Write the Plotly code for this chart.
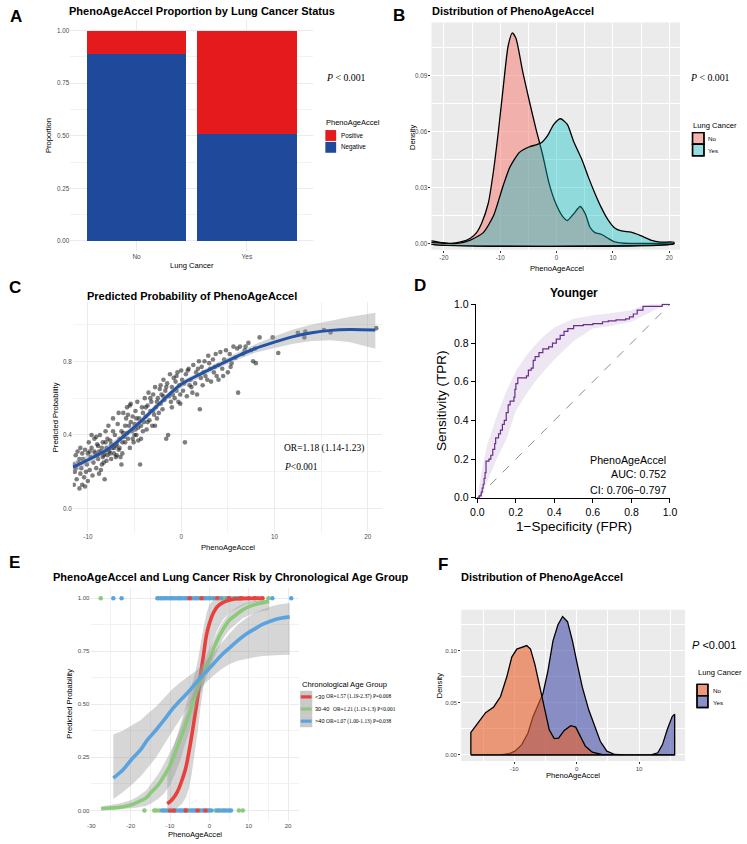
import plotly.graph_objects as go

W, H = 747, 844
SANS = "Liberation Sans, Arial, Helvetica, sans-serif"
SERIF = "Liberation Serif, Times New Roman, serif"


def fx(p):
    return p / W


def fy(p):
    return 1 - p / H


# ======================= DATA =======================
# --- Panel A: proportions ---
a_groups = ["No", "Yes"]
a_negative = [0.89, 0.51]
a_positive = [0.11, 0.49]

# --- Panel B: densities ---
b_no_x = [-22.5, -20.5, -18.8, -17, -15.3, -14.2, -13.3, -12.1, -11.2, -10.3, -9.5, -8.6, -7.85, -7.2,
          -6.0, -4.8, -3.7, -2.5, -1.3, -0.2, 1.0, 1.9, 3.0, 4.2, 5.1, 5.9, 6.8, 8.0, 9.1, 10.3, 12,
          13.8, 17, 20.8]
b_no_y = [0.0015, 0.0006, 0.0002, 0.001, 0.003, 0.006, 0.011, 0.022, 0.039, 0.061, 0.083, 0.106, 0.113,
          0.110, 0.092, 0.076, 0.062, 0.048, 0.032, 0.022, 0.015, 0.0125, 0.016, 0.020, 0.016, 0.009,
          0.006, 0.005, 0.003, 0.001, 0.0003, 0.0002, 0.0002, 0.0002]
b_yes_x = [-22.5, -20, -17.6, -15.3, -13.0, -11.2, -9.5, -8.3, -6.6, -4.8, -3.7, -2.8, -1.6, -0.5, 0.7,
           1.9, 3.0, 4.5, 5.6, 6.8, 8.0, 9.1, 10.3, 11.5, 13.2, 14.9, 16.7, 18.4, 20.8]
b_yes_y = [0.0006, 0.0003, 0.0002, 0.002, 0.006, 0.015, 0.031, 0.041, 0.049, 0.052, 0.053, 0.054, 0.058,
           0.064, 0.067, 0.064, 0.055, 0.045, 0.036, 0.027, 0.019, 0.013, 0.0085, 0.0069, 0.0062, 0.0044,
           0.002, 0.0009, 0.0009]

# --- Panel C: predicted probability scatter + smooth ---
c_points = [
    (-11.5, 0.13), (-11.4, 0.20), (-11.3, 0.29), (-11.2, 0.16), (-11.1, 0.31), (-11.0, 0.25), (-10.9, 0.11),
    (-10.8, 0.19), (-10.8, 0.33), (-10.7, 0.22), (-10.6, 0.13), (-10.5, 0.27), (-10.4, 0.17), (-10.3, 0.32),
    (-10.2, 0.20), (-10.1, 0.24), (-10.0, 0.30), (-10.0, 0.15), (-11.3, 0.22), (-10.6, 0.30), (-10.9, 0.27),
    (-10.3, 0.12), (-11.5, 0.24),
    (-9.9, 0.36), (-9.8, 0.21), (-9.7, 0.28), (-9.6, 0.33), (-9.5, 0.18), (-9.4, 0.25), (-9.3, 0.38),
    (-9.2, 0.30), (-9.1, 0.22), (-9.0, 0.35), (-8.9, 0.27), (-8.8, 0.19), (-8.7, 0.40), (-8.6, 0.31),
    (-8.5, 0.24), (-8.4, 0.36), (-8.3, 0.29), (-8.2, 0.16), (-8.1, 0.42), (-8.0, 0.33), (-8.0, 0.26),
    (-9.6, 0.40), (-9.0, 0.29), (-8.5, 0.33), (-8.9, 0.34), (-9.3, 0.31), (-8.2, 0.30), (-8.6, 0.21),
    (-9.8, 0.31), (-9.1, 0.39), (-8.4, 0.28), (-8.8, 0.31), (-8.3, 0.25), (-8.1, 0.36),
    (-7.9, 0.29), (-7.8, 0.45), (-7.7, 0.31), (-7.6, 0.37), (-7.5, 0.27), (-7.4, 0.33), (-7.3, 0.49),
    (-7.2, 0.30), (-7.1, 0.40), (-7.0, 0.28), (-6.9, 0.35), (-6.8, 0.46), (-6.7, 0.32), (-6.6, 0.38),
    (-6.5, 0.28), (-6.4, 0.42), (-6.3, 0.36), (-6.2, 0.52), (-6.1, 0.39), (-6.0, 0.45), (-7.8, 0.32),
    (-7.5, 0.35), (-7.2, 0.33), (-6.9, 0.29), (-6.6, 0.33), (-6.3, 0.30), (-7.6, 0.30), (-7.0, 0.34),
    (-6.4, 0.24), (-7.3, 0.42), (-6.7, 0.52), (-6.0, 0.36), (-7.9, 0.38), (-6.2, 0.41),
    (-5.9, 0.49), (-5.8, 0.55), (-5.7, 0.38), (-5.6, 0.45), (-5.5, 0.33), (-5.4, 0.57), (-5.3, 0.42),
    (-5.2, 0.50), (-5.1, 0.36), (-5.0, 0.46), (-4.9, 0.53), (-4.8, 0.40), (-4.7, 0.58), (-4.6, 0.44),
    (-4.5, 0.49), (-4.4, 0.24), (-4.3, 0.38), (-4.2, 0.55), (-4.1, 0.42), (-4.0, 0.47), (-5.7, 0.51),
    (-5.5, 0.56), (-5.2, 0.38), (-4.9, 0.43), (-4.6, 0.37), (-4.3, 0.45), (-5.8, 0.41), (-5.0, 0.40),
    (-4.8, 0.49), (-4.1, 0.52), (-5.4, 0.47),
    (-3.9, 0.60), (-3.8, 0.50), (-3.7, 0.43), (-3.6, 0.56), (-3.5, 0.63), (-3.4, 0.48), (-3.3, 0.53),
    (-3.2, 0.58), (-3.1, 0.45), (-3.0, 0.62), (-2.9, 0.51), (-2.8, 0.66), (-2.7, 0.55), (-2.6, 0.49),
    (-2.5, 0.60), (-2.4, 0.52), (-2.3, 0.65), (-2.2, 0.57), (-2.1, 0.62), (-2.0, 0.54), (-3.6, 0.47),
    (-3.0, 0.53), (-2.6, 0.58), (-2.2, 0.67), (-3.3, 0.60), (-2.8, 0.45), (-3.8, 0.55),
    (-1.9, 0.70), (-1.8, 0.59), (-1.7, 0.64), (-1.6, 0.38), (-1.5, 0.68), (-1.4, 0.40), (-1.3, 0.61),
    (-1.2, 0.73), (-1.1, 0.58), (-1.0, 0.66), (-0.9, 0.62), (-0.8, 0.71), (-0.7, 0.60), (-0.6, 0.69),
    (-0.5, 0.64), (-0.4, 0.74), (-0.3, 0.58), (-0.2, 0.67), (-0.1, 0.57), (0.0, 0.75), (-1.6, 0.66),
    (-1.0, 0.55), (-0.5, 0.72), (-0.1, 0.62), (-1.9, 0.61),
    (0.1, 0.70), (0.2, 0.64), (0.4, 0.36), (0.5, 0.73), (0.6, 0.61), (0.8, 0.76), (0.9, 0.67), (1.0, 0.70),
    (1.2, 0.63), (1.3, 0.78), (1.5, 0.68), (1.6, 0.74), (1.7, 0.62), (1.9, 0.80), (2.0, 0.54), (2.1, 0.71),
    (0.3, 0.68), (0.7, 0.75), (1.1, 0.66), (1.8, 0.76),
    (2.2, 0.77), (2.3, 0.67), (2.5, 0.80), (2.6, 0.72), (2.8, 0.70), (2.9, 0.83), (3.1, 0.76), (3.2, 0.69),
    (3.4, 0.81), (3.5, 0.74), (3.7, 0.84), (3.8, 0.72), (4.0, 0.78), (2.4, 0.74), (3.0, 0.79), (3.6, 0.77),
    (4.0, 0.70),
    (4.2, 0.85), (4.4, 0.76), (4.6, 0.81), (4.8, 0.86), (5.0, 0.74), (5.2, 0.84), (5.4, 0.79), (5.6, 0.88),
    (5.8, 0.82), (6.0, 0.87), (4.5, 0.72), (5.3, 0.77), (6.1, 0.63),
    (6.3, 0.88), (6.6, 0.84), (6.9, 0.88), (7.2, 0.90), (7.5, 0.86), (7.7, 0.80), (8.0, 0.79), (8.4, 0.93),
    (9.8, 0.93), (10.4, 0.845), (6.8, 0.86), (7.9, 0.87),
    (12.5, 0.955), (13.2, 0.93), (13.3, 0.962), (15.3, 0.97), (16.0, 0.957), (20.9, 0.98),
]
c_fit_x = [-11.6, -10, -8, -6, -4, -2, 0, 2, 4, 6, 8, 10, 12, 14, 16, 18, 20.8]
c_fit_y = [0.225, 0.265, 0.318, 0.40, 0.489, 0.586, 0.675, 0.729, 0.779, 0.827, 0.871, 0.904, 0.934,
           0.955, 0.968, 0.973, 0.970]
c_fit_lo = [0.195, 0.24, 0.297, 0.382, 0.471, 0.568, 0.657, 0.712, 0.763, 0.808, 0.848, 0.872, 0.895,
            0.91, 0.915, 0.905, 0.868]
c_fit_hi = [0.255, 0.29, 0.339, 0.418, 0.507, 0.604, 0.693, 0.746, 0.795, 0.846, 0.894, 0.936, 0.973,
            1.0, 1.022, 1.041, 1.064]

# --- Panel D: ROC ---
d_fpr = [0, 0.01, 0.02, 0.025, 0.03, 0.035, 0.04, 0.045, 0.06, 0.07, 0.08, 0.09, 0.095, 0.11, 0.12, 0.13,
         0.14, 0.15, 0.16, 0.17, 0.19, 0.195, 0.2, 0.21, 0.24, 0.255, 0.265, 0.28, 0.29, 0.3, 0.32, 0.34,
         0.37, 0.39, 0.41, 0.43, 0.45, 0.47, 0.5, 0.55, 0.6, 0.65, 0.68, 0.72, 0.77, 0.79, 0.81, 0.83,
         0.86, 0.93, 0.96, 1.0]
d_tpr = [0, 0.01, 0.03, 0.05, 0.07, 0.1, 0.13, 0.19, 0.2, 0.22, 0.25, 0.28, 0.31, 0.33, 0.35, 0.38, 0.40,
         0.44, 0.48, 0.50, 0.52, 0.56, 0.59, 0.62, 0.62, 0.63, 0.66, 0.67, 0.71, 0.73, 0.75, 0.77, 0.78,
         0.80, 0.82, 0.84, 0.86, 0.875, 0.89, 0.895, 0.90, 0.91, 0.915, 0.92, 0.925, 0.935, 0.95, 0.97,
         0.99, 0.99, 1.0, 1.0]
d_band_fpr = [0, 0.02, 0.05, 0.1, 0.15, 0.2, 0.25, 0.3, 0.35, 0.4, 0.5, 0.6, 0.7, 0.8, 0.85, 0.9, 0.95, 1.0]
d_band_lo = [0.0, 0.0, 0.08, 0.2, 0.3, 0.45, 0.53, 0.6, 0.66, 0.715, 0.81, 0.875, 0.89, 0.91, 0.935,
             0.96, 0.985, 1.0]
d_band_hi = [0.0, 0.12, 0.27, 0.42, 0.55, 0.655, 0.73, 0.79, 0.84, 0.88, 0.925, 0.944, 0.955, 0.97, 0.99,
             1.0, 1.0, 1.0]
d_label = ["PhenoAgeAccel", "AUC: 0.752", "CI: 0.706\u22120.797"]

# --- Panel E: logistic fits by age group ---
e_groups = ["<30", "30-40", ">40"]
e_or_text = ["OR=1.57 (1.19-2.37) P=0.008", "OR=1.21 (1.13-1.3) P<0.001", "OR=1.07 (1.00-1.13) P=0.038"]
e_top_lt30 = [-5, -2, 2, 5, 8, 10, 11.5, 13.5]
e_bot_lt30 = [-10, -9, -6, -3, -1]
e_top_3040 = [-27.6, -12.8, -12, -10.5, -8.5, -6.5, -4, -2.5, -0.5, 0.5, 1.5, 2.5, 3.5, 4, 5.5, 6, 7, 8.5, 15]
e_bot_3040 = [-16.5, -14, -13.5, -12.7, -11, -8, -5, -2, 1.5, 3, 4.5, 7.5, 8.5]
e_top_gt40 = [-24.4, -22.3, -13.2, -12.3, -11.5, -11, -10, -9.5, -9, -8, -7.5, -7, -6, -5.5, -4.5, -3.5,
              -3, -1.5, -1, 0, 1, 3, 4.5, 6.5, 7.5, 16, 20.8]
e_bot_gt40 = [-12, -11.5, -10.5, -9.5, -9, -8.5, -7.5, -7, -6.5, -6, -5.5, -4.5, -4, -3.5, -2.5, -1.5,
              -0.5, 0, 0.5, 2, 2.5, 3.5, 4, 5, 5.5]

e_fit_lt30_x = [-10.7, -9.5, -8.2, -7, -6, -5.25, -4.5, -3.6, -2.9, -2.3, -1.5, -0.7, 0, 1, 2, 3.5, 5, 6.8,
                9, 11, 13.5]
e_fit_lt30_y = [0.031, 0.05, 0.085, 0.14, 0.2, 0.27, 0.35, 0.457, 0.54, 0.63, 0.73, 0.83, 0.88, 0.93,
                0.96, 0.98, 0.99, 0.997, 0.999, 1.0, 1.0]
e_fit_lt30_lo = [0.0, 0.005, 0.01, 0.03, 0.06, 0.1, 0.17, 0.28, 0.38, 0.48, 0.59, 0.68, 0.74, 0.8, 0.85,
                 0.9, 0.93, 0.95, 0.97, 0.98, 0.985]
e_fit_lt30_hi = [0.2, 0.28, 0.35, 0.42, 0.49, 0.54, 0.59, 0.65, 0.71, 0.78, 0.86, 0.93, 0.97, 0.99, 1.0,
                 1.0, 1.0, 1.0, 1.0, 1.0, 1.0]

e_fit_3040_x = [-27.5, -25, -22.3, -20, -18.2, -16, -14.8, -13, -11.5, -10, -9, -7.5, -6.5, -5, -4, -2.5,
                -1.5, 0, 1, 2.5, 3.5, 5, 6.8, 8.5, 10.2, 12.5, 15.2]
e_fit_3040_y = [0.008, 0.011, 0.016, 0.025, 0.039, 0.06, 0.085, 0.12, 0.163, 0.21, 0.256, 0.33, 0.38,
                0.46, 0.52, 0.6, 0.643, 0.71, 0.76, 0.82, 0.853, 0.895, 0.922, 0.945, 0.961, 0.975, 0.985]
e_fit_3040_lo = [0.002, 0.003, 0.005, 0.008, 0.013, 0.022, 0.033, 0.055, 0.08, 0.12, 0.16, 0.23, 0.29,
                 0.38, 0.45, 0.54, 0.59, 0.66, 0.71, 0.77, 0.81, 0.85, 0.88, 0.905, 0.92, 0.935, 0.945]
e_fit_3040_hi = [0.02, 0.025, 0.035, 0.048, 0.065, 0.095, 0.125, 0.17, 0.22, 0.27, 0.31, 0.38, 0.43, 0.51,
                 0.57, 0.65, 0.70, 0.76, 0.80, 0.86, 0.89, 0.93, 0.955, 0.972, 0.982, 0.99, 0.995]

e_fit_gt40_x = [-24.4, -22, -19.8, -17.5, -15.7, -13.5, -11.5, -9.5, -7.3, -5, -3.2, -1, 1, 3, 5.2, 7.2,
                9.3, 11.5, 13.5, 16, 18, 20.4]
e_fit_gt40_y = [0.152, 0.19, 0.24, 0.285, 0.333, 0.38, 0.426, 0.475, 0.52, 0.565, 0.605, 0.65, 0.69, 0.73,
                0.767, 0.80, 0.83, 0.855, 0.876, 0.895, 0.905, 0.912]
e_fit_gt40_lo = [0.054, 0.085, 0.12, 0.16, 0.2, 0.25, 0.31, 0.37, 0.43, 0.5, 0.55, 0.6, 0.635, 0.665, 0.69,
                 0.705, 0.715, 0.722, 0.727, 0.731, 0.732, 0.733]
e_fit_gt40_hi = [0.357, 0.375, 0.4, 0.425, 0.455, 0.49, 0.53, 0.57, 0.605, 0.635, 0.66, 0.7, 0.745, 0.79,
                 0.835, 0.875, 0.905, 0.93, 0.947, 0.963, 0.971, 0.977]

# --- Panel F: densities ---
f_no_x = [-16.96, -15.9, -14.6, -13.3, -12.2, -11.2, -10.4, -9.6, -8.8, -8.0, -7.4, -6.7, -5.9, -5.1,
          -4.4, -3.6, -2.9, -2.0, -0.95, -0.16, 0.63, 1.4, 2.5, 4.0, 5.6, 15.7]
f_no_y = [0.0215, 0.030, 0.0405, 0.046, 0.056, 0.075, 0.094, 0.1016, 0.103, 0.105, 0.1016, 0.087, 0.065,
          0.043, 0.024, 0.0155, 0.016, 0.0234, 0.028, 0.0266, 0.0177, 0.0082, 0.0025, 0.0003, 0.0, 0.0]
f_yes_x = [-16.96, -12.2, -10.9, -9.9, -8.8, -7.8, -7.0, -6.2, -5.4, -4.6, -3.8, -3.0, -2.26, -1.47, -0.68,
           0.1, 0.9, 1.94, 2.73, 3.78, 4.83, 6.1, 7.7, 11.9, 13.0, 13.75, 14.5, 15.3, 15.7]
f_yes_y = [0.0, 0.0, 0.001, 0.0035, 0.0098, 0.021, 0.0367, 0.048, 0.059, 0.081, 0.1095, 0.125, 0.133, 0.128,
           0.1095, 0.087, 0.065, 0.043, 0.030, 0.013, 0.0035, 0.0003, 0.0, 0.0, 0.0019, 0.0098, 0.024, 0.0367,
           0.039]

# ======================= STYLE =======================
A_RED = "#E41A1C"
A_BLUE = "#1F4A9B"
B_NO = "rgba(248,118,109,0.5)"
B_YES = "rgba(0,191,196,0.38)"
F_NO = "rgba(232,95,40,0.6)"
F_YES = "rgba(70,78,168,0.6)"
E_COL = ["#E8413D", "#8DC97A", "#5BA3DF"]
RIBBON = "rgba(153,153,153,0.4)"
TICKGREY = "#4D4D4D"

fig = go.Figure()


def closed(xs, ys):
    return [xs[0]] + list(xs) + [xs[-1], xs[0]], [0] + list(ys) + [0, 0]


def band(xs, lo, hi):
    return list(xs) + list(xs)[::-1], list(hi) + list(lo)[::-1]


# ---- A ----
fig.add_trace(go.Bar(x=a_groups, y=a_negative, width=0.9, marker=dict(color=A_BLUE, line=dict(width=0)),
                     xaxis="x", yaxis="y", showlegend=False, name="Negative"))
fig.add_trace(go.Bar(x=a_groups, y=a_positive, width=0.9, marker=dict(color=A_RED, line=dict(width=0)),
                     xaxis="x", yaxis="y", showlegend=False, name="Positive"))

# ---- B ----
for xs, ys, col in [(b_no_x, b_no_y, B_NO), (b_yes_x, b_yes_y, B_YES)]:
    px_, py_ = closed(xs, ys)
    fig.add_trace(go.Scatter(x=px_, y=py_, mode="lines", fill="toself", fillcolor=col,
                             line=dict(color="black", width=1.3, shape="spline", smoothing=0.6),
                             xaxis="x2", yaxis="y2", showlegend=False))

# ---- C ----
fig.add_trace(go.Scatter(x=[p[0] for p in c_points], y=[p[1] for p in c_points], mode="markers",
                         marker=dict(size=4.6, color="rgba(20,20,20,0.55)", line=dict(width=0)),
                         xaxis="x3", yaxis="y3", showlegend=False))
bx, by = band(c_fit_x, c_fit_lo, c_fit_hi)
fig.add_trace(go.Scatter(x=bx, y=by, mode="lines", fill="toself", fillcolor=RIBBON, line=dict(width=0),
                         xaxis="x3", yaxis="y3", showlegend=False))
fig.add_trace(go.Scatter(x=c_fit_x, y=c_fit_y, mode="lines", line=dict(color="#2352A6", width=3, shape="spline"),
                         xaxis="x3", yaxis="y3", showlegend=False))

# ---- D ----
bx, by = band(d_band_fpr, d_band_lo, d_band_hi)
fig.add_trace(go.Scatter(x=bx, y=by, mode="lines", fill="toself", fillcolor="rgba(120,60,160,0.13)",
                         line=dict(width=0), xaxis="x4", yaxis="y4", showlegend=False))
fig.add_trace(go.Scatter(x=[0, 1], y=[0, 1], mode="lines", line=dict(color="#8C8C8C", width=1, dash="dash"),
                         xaxis="x4", yaxis="y4", showlegend=False))
fig.add_trace(go.Scatter(x=d_fpr, y=d_tpr, mode="lines", line=dict(color="#6A2D8C", width=1.2, shape="hv"),
                         xaxis="x4", yaxis="y4", showlegend=False))

# ---- E ----
tops = [e_top_lt30, e_top_3040, e_top_gt40]
bots = [e_bot_lt30, e_bot_3040, e_bot_gt40]
for g in [1, 2, 0]:
    xs = tops[g] + bots[g]
    ys = [1] * len(tops[g]) + [0] * len(bots[g])
    fig.add_trace(go.Scatter(x=xs, y=ys, mode="markers", marker=dict(size=4.5, color=E_COL[g]),
                             xaxis="x5", yaxis="y5", showlegend=False))
fits = [(e_fit_lt30_x, e_fit_lt30_y, e_fit_lt30_lo, e_fit_lt30_hi),
        (e_fit_3040_x, e_fit_3040_y, e_fit_3040_lo, e_fit_3040_hi),
        (e_fit_gt40_x, e_fit_gt40_y, e_fit_gt40_lo, e_fit_gt40_hi)]
for g, (xs, ys, lo, hi) in enumerate(fits):
    bx, by = band(xs, lo, hi)
    fig.add_trace(go.Scatter(x=bx, y=by, mode="lines", fill="toself", fillcolor=RIBBON,
                             line=dict(width=0), xaxis="x5", yaxis="y5", showlegend=False))
    fig.add_trace(go.Scatter(x=xs, y=ys, mode="lines", line=dict(color=E_COL[g], width=3.6, shape="spline"),
                             xaxis="x5", yaxis="y5", showlegend=False))

# ---- F ----
for xs, ys, col in [(f_yes_x, f_yes_y, F_YES), (f_no_x, f_no_y, F_NO)]:
    px_, py_ = closed(xs, ys)
    fig.add_trace(go.Scatter(x=px_, y=py_, mode="lines", fill="toself", fillcolor=col,
                             line=dict(color="black", width=1.3),
                             xaxis="x6", yaxis="y6", showlegend=False))


# ======================= AXES =======================
def gg_axis(dom, rng, tv, tt, minor_vals, grid, minor_grid, ticks="", ticklen=0, anchor=None, size=6.3):
    d = dict(domain=dom, range=rng, tickmode="array", tickvals=tv, ticktext=tt, showgrid=True,
             gridcolor=grid, gridwidth=1, zeroline=False, showline=False, ticks=ticks, ticklen=ticklen,
             tickcolor="#333333", tickwidth=1, tickfont=dict(family=SANS, size=size, color=TICKGREY),
             fixedrange=True, anchor=anchor, layer="below traces")
    if minor_vals:
        d["minor"] = dict(tickvals=minor_vals, showgrid=True, gridcolor=minor_grid, gridwidth=0.5, ticks="")
    return d


LIGHT = "#EBEBEB"
LIGHT_MINOR = "#F2F2F2"

layout_axes = {}
# A
layout_axes["xaxis"] = dict(domain=[fx(65.5), fx(312.5)], type="category", range=[-0.6, 1.6],
                            categoryorder="array", categoryarray=a_groups, showgrid=True, gridcolor=LIGHT,
                            gridwidth=1, zeroline=False, showline=False, ticks="", anchor="y",
                            tickfont=dict(family=SANS, size=6.5, color=TICKGREY), fixedrange=True)
layout_axes["yaxis"] = gg_axis([fy(248.6), fy(14.4)], [-0.05, 1.05], [0, 0.25, 0.5, 0.75, 1],
                               ["0.00", "0.25", "0.50", "0.75", "1.00"], [0.125, 0.375, 0.625, 0.875],
                               LIGHT, LIGHT_MINOR, anchor="x")
# B
layout_axes["xaxis2"] = gg_axis([fx(433), fx(686)], [-22.2, 21.9], [-20, -10, 0, 10, 20],
                                ["-20", "-10", "0", "10", "20"], [-15, -5, 5, 15], "white", "white",
                                ticks="outside", ticklen=2, anchor="y2")
layout_axes["yaxis2"] = gg_axis([fy(247), fy(16.7)], [-0.0032, 0.1186], [0, 0.03, 0.06, 0.09],
                                ["0.00", "0.03", "0.06", "0.09"], [0.015, 0.045, 0.075, 0.105], "white", "white",
                                ticks="outside", ticklen=2, anchor="x2")
# C
layout_axes["xaxis3"] = gg_axis([fx(68), fx(383)], [-11.61, 21.55], [-10, 0, 10, 20], ["-10", "0", "10", "20"],
                                [-5, 5, 15], LIGHT, LIGHT_MINOR, anchor="y3")
layout_axes["yaxis3"] = gg_axis([fy(533), fy(300)], [-0.127, 1.1216], [0, 0.4, 0.8], ["0.0", "0.4", "0.8"],
                                [0.2, 0.6, 1.0], LIGHT, LIGHT_MINOR, anchor="x3")
# D
d_ticks = [0, 0.2, 0.4, 0.6, 0.8, 1.0]
d_text = ["0.0", "0.2", "0.4", "0.6", "0.8", "1.0"]
for key, dom, rng, anc in [("xaxis4", [fx(478), fx(676)], [-0.0087, 1.0015], "y4"),
                           ("yaxis4", [fy(498.5), fy(301.5)], [-0.001, 1.004], "x4")]:
    layout_axes[key] = dict(domain=dom, range=rng, tickmode="array", tickvals=d_ticks, ticktext=d_text,
                            showgrid=False, zeroline=False, showline=True, linecolor="black", linewidth=1,
                            ticks="outside", ticklen=4, tickcolor="black", tickwidth=1,
                            tickfont=dict(family=SANS, size=10.5, color="black"), anchor=anc, fixedrange=True)
# E
layout_axes["xaxis5"] = gg_axis([fx(86), fx(298.3)], [-30.2, 22.8], [-30, -20, -10, 0, 10, 20],
                                ["-30", "-20", "-10", "0", "10", "20"], [-25, -15, -5, 5, 15], LIGHT, LIGHT_MINOR,
                                anchor="y5", size=6.1)
layout_axes["yaxis5"] = gg_axis([fy(825.75), fy(589.25)], [-0.05, 1.05], [0, 0.25, 0.5, 0.75, 1],
                                ["0.00", "0.25", "0.50", "0.75", "1.00"], [0.125, 0.375, 0.625, 0.875],
                                LIGHT, LIGHT_MINOR, anchor="x5", size=6.1)
# F
layout_axes["xaxis6"] = gg_axis([fx(463.3), fx(691)], [-18.5, 17.35], [-10, 0, 10], ["-10", "0", "10"],
                                [-15, -5, 5, 15], "white", "white", ticks="outside", ticklen=2, anchor="y6",
                                size=6.1)
layout_axes["yaxis6"] = gg_axis([fy(765), fy(611.7)], [-0.006, 0.1395], [0, 0.05, 0.10],
                                ["0.00", "0.05", "0.10"], [0.025, 0.075, 0.125], "white", "white",
                                ticks="outside", ticklen=2, anchor="x6", size=6.1)

# ======================= SHAPES =======================
shapes = []


def rect(x0, y0, x1, y1, fill, line_color=None, lw=0, layer="above"):
    shapes.append(dict(type="rect", xref="paper", yref="paper", x0=fx(x0), x1=fx(x1), y0=fy(y1), y1=fy(y0),
                       fillcolor=fill, line=dict(color=line_color or fill, width=lw), layer=layer))


# grey panel backgrounds (B, F)
rect(433, 16.7, 686, 247, "#EBEBEB", layer="below")
rect(463.3, 611.7, 691, 765, "#EBEBEB", layer="below")

# A legend keys
rect(325, 125.7, 336, 136.7, A_RED)
rect(325, 137.7, 336, 148.7, A_BLUE)
# B legend keys
rect(698.7, 128.3, 710.3, 140, "#F2F2F2", "black", 1.4)
rect(698.7, 128.3, 710.3, 140, B_NO, "black", 1.4)
rect(698.7, 140, 710.3, 151.7, "#F2F2F2", "black", 1.4)
rect(698.7, 140, 710.3, 151.7, B_YES, "black", 1.4)
# F legend keys
rect(703.3, 687.3, 714.3, 699, "#F2F2F2", "black", 1.4)
rect(703.3, 687.3, 714.3, 699, F_NO, "black", 1.4)
rect(703.3, 699, 714.3, 710.7, "#F2F2F2", "black", 1.4)
rect(703.3, 699, 714.3, 710.7, F_YES, "black", 1.4)
# E legend keys
for i, yc in enumerate([700, 712.3, 724.6]):
    rect(299.3, yc - 6.15, 311.7, yc + 6.15, "#C9C9C9")
    shapes.append(dict(type="line", xref="paper", yref="paper", x0=fx(300), x1=fx(311), y0=fy(yc), y1=fy(yc),
                       line=dict(color=E_COL[i], width=3.2)))

# ======================= ANNOTATIONS =======================
annotations = []


def txt(x, y, s, size, color="black", family=SANS, xanchor="center", yanchor="middle", angle=0):
    annotations.append(dict(x=fx(x), y=fy(y), xref="paper", yref="paper", text=s, showarrow=False,
                            font=dict(family=family, size=size, color=color), xanchor=xanchor,
                            yanchor=yanchor, textangle=angle, borderpad=0))


# panel letters
for lab, x, y in [("A", 10, 11), ("B", 399.5, 10), ("C", 9, 285), ("D", 421.5, 283.5), ("E", 9, 564),
                  ("F", 445, 566)]:
    txt(x, y, "<b>%s</b>" % lab, 17)

# titles
txt(199, 5.5, "<b>PhenoAgeAccel Proportion by Lung Cancer Status</b>", 11)
txt(433, 5.5, "<b>Distribution of PhenoAgeAccel</b>", 11, xanchor="left")
txt(189, 293.5, "<b>Predicted Probability of PhenoAgeAccel</b>", 11)
txt(578, 291, "<b>Younger</b>", 12)
txt(229, 579, "<b>PhenoAgeAccel and Lung Cancer Risk by Chronological Age Group</b>", 11)
txt(462, 579, "<b>Distribution of PhenoAgeAccel</b>", 11, xanchor="left")

# axis titles
txt(189, 263, "Lung Cancer", 7.6)
txt(44, 131.5, "Proportion", 7.6, angle=-90)
txt(560.5, 266, "PhenoAgeAccel", 7.6)
txt(413, 133, "Density", 7.6, angle=-90)
txt(225.5, 548.5, "PhenoAgeAccel", 7.6)
txt(50, 416.5, "Predicted Probability", 7.6, angle=-90)
txt(578, 527, "1\u2212Specificity (FPR)", 13.5)
txt(443, 400, "Sensitivity (TPR)", 13.5, angle=-90)
txt(192.5, 839, "PhenoAgeAccel", 7.6)
txt(65, 707, "Predicted Probability", 7.6, angle=-90)
txt(577, 780, "PhenoAgeAccel", 7.6)
txt(441.5, 688.5, "Density", 7.6, angle=-90)

# P values / stats
txt(325, 72.7, "<i>P</i> &lt; 0.001", 9.8, family=SERIF, xanchor="left")
txt(694.7, 72.7, "<i>P</i> &lt; 0.001", 9.8, family=SERIF, xanchor="left")
txt(282, 448, "OR=1.18 (1.14-1.23)", 9.5, family=SERIF, xanchor="left")
txt(282, 467, "<i>P</i>&lt;0.001", 9.5, family=SERIF, xanchor="left")
txt(696.7, 647.7, "<i>P</i> &lt;0.001", 11, xanchor="left")
for i, (s, y) in enumerate(zip(d_label, [460, 474.5, 490])):
    txt(672.5, y, s, 10.7, xanchor="right")

# legends text
txt(325, 118, "PhenoAgeAccel", 7.5, xanchor="left")
txt(340, 131.2, "Positive", 6.3, xanchor="left")
txt(340, 143.2, "Negative", 6.3, xanchor="left")
txt(698, 120.7, "Lung Cancer", 7.6, xanchor="left")
txt(713, 134.2, "No", 6.2, xanchor="left")
txt(713, 146, "Yes", 6.2, xanchor="left")
txt(703.3, 675, "Lung Cancer", 7.6, xanchor="left")
txt(718.3, 693.2, "No", 6.2, xanchor="left")
txt(718.3, 705.5, "Yes", 6.2, xanchor="left")
txt(300, 687.7, "Chronological Age Group", 7.6, xanchor="left")
grp_lbl = ["&lt;30", "30-40", "&gt;40"]
or_x = [325, 331.5, 325]
for i, yc in enumerate([700, 712.3, 724.6]):
    txt(313.3, yc, grp_lbl[i], 5.6, xanchor="left")
    txt(or_x[i], yc, e_or_text[i].replace("<", "&lt;"), 5.4, family=SERIF, xanchor="left")

fig.update_layout(
    width=W, height=844, autosize=False,
    margin=dict(l=0, r=0, t=0, b=0, pad=0),
    paper_bgcolor="white", plot_bgcolor="rgba(0,0,0,0)",
    barmode="stack", showlegend=False,
    shapes=shapes, annotations=annotations,
    font=dict(family=SANS),
    **layout_axes,
)

fig.write_html("out.html")
